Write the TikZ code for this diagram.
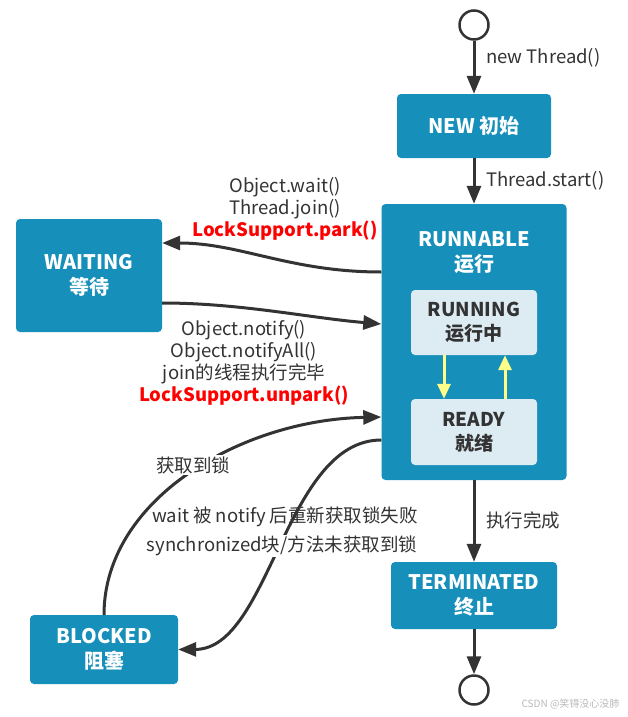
\documentclass[tikz,border=0pt]{standalone}
\usepackage{fontspec}
\setmainfont{Noto Sans CJK SC}
\usepackage{xcolor}
\usetikzlibrary{arrows.meta}
\definecolor{stblue}{HTML}{168FBA}
\definecolor{stlight}{HTML}{DDEBF3}
\definecolor{stline}{HTML}{333333}
\definecolor{styellow}{HTML}{FFFF88}

\begin{document}
\begin{tikzpicture}[x=1pt,y=-1pt]
            \tikzset{state/.style = {fill=stblue, rounded corners=4pt, text=white, align=center, font=\bfseries\fontsize{20}{25}\selectfont}}
            \tikzset{inner/.style = {fill=stlight, rounded corners=4pt, text=stline, align=center, minimum width=126pt, font=\bfseries\fontsize{19}{24}\selectfont}}
            \tikzset{pseudo/.style = {circle, draw=stline, line width=2.5pt, minimum size=29pt, inner sep=0pt}}
            \tikzset{edge/.style = {draw=stline, line width=3pt, -{Triangle[length=18pt,width=14pt]}}}
            \tikzset{switch/.style = {draw=styellow, line width=3pt, -{Triangle[length=15pt,width=13pt]}}}
            \tikzset{lbl/.style = {text=stline, align=center, inner sep=1pt, font=\fontsize{18.5}{22}\selectfont}}
            \useasboundingbox (0,0) rectangle (628,717);

            % states
            \node[pseudo] (start) at (474,25) {};
            \node[state, minimum width=154pt, minimum height=64pt] (new) at (474,126) {NEW 初始};
            \node[state, minimum width=185pt, minimum height=276pt] (run) at (474,342) {};
            \node[state, fill=none] (runtitle) at (474,253) {RUNNABLE\\运行};
            \node[inner, minimum height=65pt] (running) at (474,322.5) {RUNNING\\运行中};
            \node[inner, minimum height=66pt] (ready) at (474,432) {READY\\就绪};
            \node[state, minimum width=146pt, minimum height=113pt] (wait) at (89,275.5) {WAITING\\等待};
            \node[state, minimum width=148pt, minimum height=69pt] (blocked) at (104,649.5) {BLOCKED\\阻塞};
            \node[state, minimum width=166pt, minimum height=67pt] (term) at (474,595.5) {TERMINATED\\终止};
            \node[pseudo] (end) at (474,690) {};

            % transitions
            \draw[edge] (start) -- (new);
            \draw[edge] (new) -- (run);
            \draw[edge] (run) -- (term);
            \draw[edge] (term) -- (end);
            \draw[edge] ([yshift=70pt]run.west) .. controls (290,272) and (240,243) .. ([yshift=32.5pt]wait.east);
            \draw[edge] ([yshift=-27.5pt]wait.east) .. controls (240,303) and (310,318) .. ([yshift=18pt]run.west);
            \draw[edge] (blocked.north) .. controls (104,500) and (240,420) .. ([yshift=-75pt]run.west);
            \draw[edge] ([yshift=-98pt]run.west) .. controls (285,440) and (270,649) .. (blocked.east);
            \foreach \x in {-30} {\draw[switch] ([xshift=\x pt]running.south) -- ([xshift=\x pt]ready.north);}
            \foreach \x in {31} {\draw[switch] ([xshift=\x pt]ready.north) -- ([xshift=\x pt]running.south);}

            % labels
            \node[lbl, anchor=west] (lnew) at (485,58) {new Thread()};
            \node[lbl, anchor=west] (lstart) at (485,181) {Thread.start()};
            \node[lbl, anchor=west] (ldone) at (485,520) {执行完成};
            \node[lbl] (lpark) at (285,209) {Object.wait()\\Thread.join()\\\textcolor{red}{\textbf{LockSupport.park()}}};
            \node[lbl] (lunpark) at (244,362.5) {Object.notify()\\Object.notifyAll()\\join的线程执行完毕\\\textcolor{red}{\textbf{LockSupport.unpark()}}};
            \node[lbl, fill=white] (llock) at (193,465) {获取到锁};
            \node[lbl] (lfail) at (285,517) {wait 被 notify 后重新获取锁失败};
            \node[lbl, fill=white] (lsync) at (282,546) {synchronized块/方法未获取到锁};
            \node[text=gray!55, anchor=east, font=\fontsize{10}{12}\selectfont] (mark) at (623,704) {CSDN @笑锝没心没肺};

\end{tikzpicture}
\end{document}
